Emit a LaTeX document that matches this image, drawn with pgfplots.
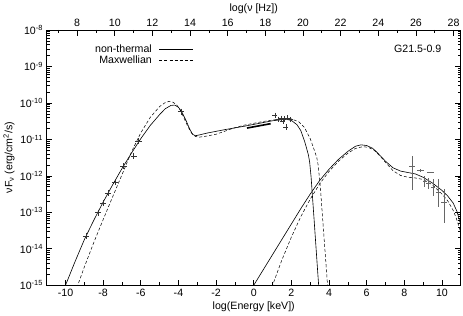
\documentclass[border=0pt]{standalone}
\usepackage{fontspec}
\setmainfont{Liberation Sans}
\usepackage{pgfplots}
\pgfplotsset{compat=1.18}
\pgfplotstableread{
x y
-10.1 -15.13
-10 -15.0
-9.5 -14.36
-9 -13.75
-8.5 -13.22
-8 -12.72
-7.5 -12.25
-7 -11.8
-6.5 -11.38
-6 -10.98
-5.5 -10.62
-5 -10.32
-4.7 -10.16
-4.4 -10.07
-4.2 -10.06
-4.0 -10.12
-3.8 -10.27
-3.6 -10.48
-3.4 -10.72
-3.25 -10.86
-3.1 -10.9
-2.9 -10.88
-2.5 -10.83
-2 -10.78
-1.5 -10.73
-1 -10.685
-0.5 -10.64
0 -10.59
0.5 -10.54
1 -10.49
1.5 -10.46
1.8 -10.46
2.0 -10.48
2.3 -10.6
2.5 -10.76
2.7 -11.05
2.8 -11.23
2.9 -11.42
2.97 -11.62
3.05 -12.05
3.1 -12.42
3.2 -13.15
3.3 -13.9
3.4 -14.65
3.47 -15.15
}\syncnt
\pgfplotstableread{
x y
-9.4 -15.07
-9 -14.5
-8.5 -13.83
-8 -13.2
-7.5 -12.58
-7 -11.97
-6.5 -11.35
-6 -10.82
-5.5 -10.4
-5 -10.1
-4.7 -9.99
-4.5 -9.96
-4.3 -9.98
-4.1 -10.05
-3.9 -10.2
-3.7 -10.42
-3.5 -10.65
-3.3 -10.83
-3.1 -10.92
-2.9 -10.94
-2.5 -10.91
-2 -10.86
-1.5 -10.77
-1 -10.68
-0.5 -10.61
0 -10.56
0.5 -10.51
1 -10.47
1.5 -10.44
2.0 -10.44
2.4 -10.52
2.7 -10.68
3.0 -10.98
3.2 -11.27
3.35 -11.5
3.42 -11.7
3.5 -12.1
3.56 -12.45
3.65 -13.1
3.75 -13.8
3.85 -14.5
3.95 -15.2
}\syncmx
\pgfplotstableread{
x y
-0.05 -15.05
0 -15.0
0.5 -14.58
1 -14.16
1.5 -13.74
2 -13.32
2.5 -12.9
3 -12.5
3.5 -12.13
4 -11.82
4.5 -11.55
5 -11.33
5.4 -11.19
5.7 -11.15
6.0 -11.17
6.3 -11.24
6.5 -11.33
7.0 -11.6
7.4 -11.78
7.8 -11.87
8.2 -11.91
8.6 -11.95
9.0 -12.04
9.5 -12.2
10.0 -12.4
10.3 -12.55
10.6 -12.75
10.8 -12.98
11.0 -13.35
}\icnt
\pgfplotstableread{
x y
0.95 -15.05
1 -15.0
1.5 -14.3
2 -13.68
2.5 -13.12
3 -12.64
3.5 -12.22
4 -11.88
4.5 -11.6
5 -11.38
5.4 -11.25
5.8 -11.2
6.1 -11.22
6.4 -11.3
6.7 -11.45
7.0 -11.63
7.4 -11.86
7.8 -11.99
8.2 -12.04
8.6 -12.06
9.0 -12.1
9.5 -12.25
10.0 -12.5
10.3 -12.68
10.6 -12.95
10.8 -13.22
11.0 -13.55
}\icmx
\begin{document}
\fontsize{10.4}{12.5}\selectfont
\begin{tikzpicture}
\begin{axis}[
  scale only axis, width=405.5pt, height=250pt,
  xmin=-11, xmax=11, ymin=-15, ymax=-8,
  axis line style={line width=0.8pt},
  xtick pos=bottom, ytick pos=both,
  tick align=inside,
  major tick length=5.5pt, minor tick length=3pt,
  every tick/.style={black, line width=0.6pt},
  xtick={-10,-8,-6,-4,-2,0,2,4,6,8,10},
  xticklabels={-10,-8,-6,-4,-2,0,2,4,6,8,10},
  minor xtick={-9,-7,-5,-3,-1,1,3,5,7,9},
  ytick={-15,-14,-13,-12,-11,-10,-9,-8},
  yticklabels={10\textsuperscript{-15},10\textsuperscript{-14},10\textsuperscript{-13},10\textsuperscript{-12},10\textsuperscript{-11},10\textsuperscript{-10},10\textsuperscript{-9},10\textsuperscript{-8}},
  minor ytick={-14.699,-14.523,-14.398,-14.301,-14.222,-14.155,-14.097,-14.046,
    -13.699,-13.523,-13.398,-13.301,-13.222,-13.155,-13.097,-13.046,
    -12.699,-12.523,-12.398,-12.301,-12.222,-12.155,-12.097,-12.046,
    -11.699,-11.523,-11.398,-11.301,-11.222,-11.155,-11.097,-11.046,
    -10.699,-10.523,-10.398,-10.301,-10.222,-10.155,-10.097,-10.046,
    -9.699,-9.523,-9.398,-9.301,-9.222,-9.155,-9.097,-9.046,
    -8.699,-8.523,-8.398,-8.301,-8.222,-8.155,-8.097,-8.046},
  xlabel={log(Energy [keV])},
  ylabel={νF\textsubscript{ν} (erg/cm\textsuperscript{2}/s)},
  xlabel style={yshift=2pt},
  ylabel style={yshift=-2pt},
  legend plot pos=right,
  legend cell align=right,
  legend style={at={(axis cs:-3.2,-8.34)}, anchor=north east, draw=none, fill=none,
    inner sep=0pt, row sep=-2pt, column sep=5pt, font=\fontsize{10.4}{12}\selectfont},
  legend image code/.code={\draw[#1] (0pt,0pt) -- (33pt,0pt);},
  clip=true,
]
\addplot[black, line width=0.6pt] table[x=x,y=y] {\syncnt};
\addlegendentry{non-thermal}
\addplot[black, line width=0.5pt, dash pattern=on 3pt off 2pt] table[x=x,y=y] {\syncmx};
\addlegendentry{Maxwellian}
\addplot[black, line width=0.6pt, forget plot] table[x=x,y=y] {\icnt};
\addplot[black, line width=0.5pt, dash pattern=on 3pt off 2pt, forget plot] table[x=x,y=y] {\icmx};
% X-ray bow tie
\addplot[black, line width=1.6pt, forget plot] coordinates {(-0.36,-10.69) (0.90,-10.57)};
% radio / IR points
\addplot[only marks, mark=+, mark size=3pt, black!80, mark options={line width=0.5pt}, forget plot] coordinates {
(-8.90,-13.65) (-8.27,-13.01) (-7.99,-12.74) (-7.74,-12.48) (-7.38,-12.18)
(-6.92,-11.74) (-6.38,-11.45) (-6.12,-11.04) (-3.87,-10.24)};
% X-ray points
\addplot[only marks, mark=+, mark size=2.5pt, black!80, mark options={line width=0.5pt}, forget plot] coordinates {
(1.12,-10.34) (1.30,-10.45) (1.45,-10.42) (1.60,-10.44) (1.71,-10.66) (1.80,-10.41) (1.95,-10.46) (1.55,-10.50)};
% gamma-ray points
\addplot[draw=none, mark=none, forget plot,
  error bars/.cd, x dir=both, x explicit, y dir=both, y explicit,
  error mark=none, error bar style={black!60, line width=0.5pt, solid}] coordinates {
(8.42,-11.735) += (0.15,0.265) -= (0.15,0.655)
(8.85,-11.85) += (0.18,0.05) -= (0.18,0.05)
(9.41,-11.90) += (0.18,0.0) -= (0.18,0.0)
(9.08,-12.15) += (0.1,0.15) -= (0.1,0.15)
(9.26,-12.20) += (0.1,0.15) -= (0.1,0.15)
(9.53,-12.30) += (0.1,0.2) -= (0.1,0.25)
(9.80,-12.45) += (0.1,0.35) -= (0.1,0.4)
(10.11,-12.72) += (0.18,0.35) -= (0.18,0.58)
};
\node[anchor=center] at (rel axis cs:0.896,0.925) {G21.5-0.9};
\end{axis}
\begin{axis}[
  scale only axis, width=405.5pt, height=250pt,
  xmin=6.384, xmax=28.384, ymin=0, ymax=1,
  axis x line*=top, axis y line=none,
  axis line style={line width=0.8pt},
  tick align=inside,
  major tick length=5.5pt, minor tick length=3pt,
  every tick/.style={black, line width=0.6pt},
  xtick={8,10,12,14,16,18,20,22,24,26,28},
  xticklabels={8,10,12,14,16,18,20,22,24,26,28},
  minor xtick={7,9,11,13,15,17,19,21,23,25,27},
  xlabel={log(ν [Hz])},
  xlabel style={yshift=-2pt},
]
\end{axis}
\end{tikzpicture}
\end{document}
